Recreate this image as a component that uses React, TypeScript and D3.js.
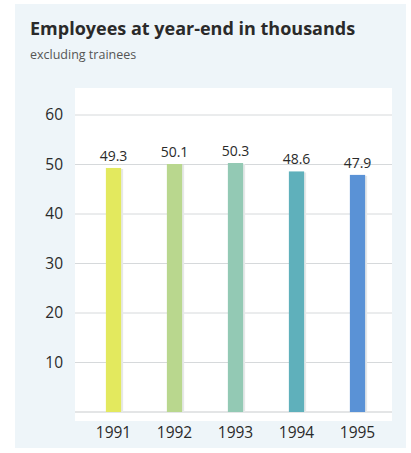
import React from "react";
import * as d3 from "d3";

const years = ["1991", "1992", "1993", "1994", "1995"];
const employees = [49.3, 50.1, 50.3, 48.6, 47.9];
const barColors = ["#e3e95e", "#b9d78e", "#93c9b4", "#5fb0bb", "#5a92d6"];
const yTicks = [10, 20, 30, 40, 50, 60];

const W = 411;
const H = 453;

export default function App() {
  const plotLeft = 75;
  const plotRight = 392;
  const x = d3.scaleBand<string>().domain(years).range([83, 388]).paddingInner(0.75).paddingOuter(0.375);
  const y = d3.scaleLinear().domain([0, 60]).range([412, 115]);
  const fmt = d3.format(".1f");
  const bw = x.bandwidth();
  const font = "'Open Sans', 'Noto Sans', sans-serif";
  return (
    <svg width={W} height={H} style={{ position: "absolute", left: 0, top: 0, display: "block" }}>
      <rect x={0} y={0} width={W} height={H} fill="#ffffff" />
      <rect x={15} y={4} width={391} height={444} fill="#eef5f9" />
      <rect x={plotLeft} y={88} width={plotRight - plotLeft} height={333} fill="#ffffff" />
      <text x={30} y={35} fontFamily={font} fontWeight={700} fontSize={18} fill="#2a2a2a">
        Employees at year-end in thousands
      </text>
      <text x={30} y={59} fontFamily={font} fontSize={12.5} fill="#555">
        excluding trainees
      </text>
      {yTicks.map((t) => (
        <g key={t}>
          <line x1={plotLeft} x2={plotRight} y1={y(t)} y2={y(t)} stroke="#d6d9db" strokeWidth={1} />
          <text x={63} y={y(t)} dy="0.35em" textAnchor="end" fontFamily={font} fontSize={15.5} fill="#2a2a2a">
            {t}
          </text>
        </g>
      ))}
      <line x1={plotLeft} x2={plotRight} y1={y(0)} y2={y(0)} stroke="#c8cbcd" strokeWidth={1} />
      {years.map((yr, i) => {
        const bx = x(yr)!;
        const v = employees[i];
        return (
          <g key={yr}>
            <rect x={bx + 2} y={y(v) + 1} width={bw} height={y(0) - y(v) - 1} fill="#e6e8e8" />
            <rect x={bx} y={y(v)} width={bw} height={y(0) - y(v)} fill={barColors[i]} />
            <text x={bx + bw / 2} y={y(v) - 7} textAnchor="middle" fontFamily={font} fontSize={14} fill="#2a2a2a">
              {fmt(v)}
            </text>
            <text x={bx + bw / 2} y={438} textAnchor="middle" fontFamily={font} fontSize={15.5} fill="#2a2a2a">
              {yr}
            </text>
          </g>
        );
      })}
    </svg>
  );
}
